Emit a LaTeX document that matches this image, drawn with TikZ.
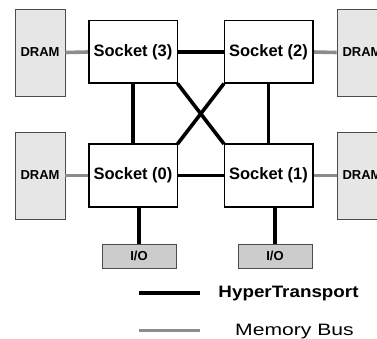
\documentclass[tikz,border=0pt]{standalone}
\usepackage{fontspec}
\setmainfont{Liberation Sans}
\definecolor{dramfill}{HTML}{E6E6E6}
\definecolor{iofill}{HTML}{CCCCCC}
\definecolor{busgray}{HTML}{8C8C8C}
\tikzset{
  socketbox/.style={draw=black, line width=1pt, fill=white, minimum width=88pt, minimum height=62pt, inner sep=0pt, font=\fontsize{16.5}{18}\selectfont\bfseries},
  drambox/.style={draw=black!70, line width=0.8pt, fill=dramfill, minimum width=50pt, minimum height=87pt, inner sep=0pt, font=\fontsize{13}{15}\selectfont\bfseries},
  iobox/.style={draw=black!70, line width=0.8pt, fill=iofill, minimum width=74pt, minimum height=24pt, inner sep=0pt, font=\fontsize{13}{15}\selectfont\bfseries},
  htlink/.style={draw=black, line width=3.6pt},
  memlink/.style={draw=busgray, line width=3.6pt},
}
\begin{document}
\begin{tikzpicture}[x=1pt,y=-1pt]
\useasboundingbox (0,0) rectangle (377,339);
\begin{scope}
\clip (0,0) rectangle (377,339);
% DRAM boxes
\node[drambox] (d3) at (40,52.5) {DRAM};
\node[drambox] (d0) at (40,175.5) {DRAM};
\node[drambox] (d2) at (362,52.5) {DRAM};
\node[drambox] (d1) at (362,175.5) {DRAM};
% I/O boxes
\node[iobox] (io0) at (139,256) {I/O};
\node[iobox] (io1) at (275,256) {I/O};
% sockets
\node[socketbox] (s3) at (133,52) {Socket (3)};
\node[socketbox] (s2) at (268.5,52) {Socket (2)};
\node[socketbox] (s0) at (133,175.5) {Socket (0)};
\node[socketbox] (s1) at (268.5,175.5) {Socket (1)};
% HyperTransport links
\draw[htlink] (s3.east) -- (s2.west);
\draw[htlink] (s0.east) -- (s1.west);
\draw[htlink] (s3.south) -- (s0.north);
\draw[htlink] (s2.south) -- (s1.north);
\draw[htlink] (s3.south east) -- (s1.north west);
\draw[htlink] (s2.south west) -- (s0.north east);
\draw[htlink] (io0.north) -- (io0.north |- s0.south);
\draw[htlink] (io1.north) -- (io1.north |- s1.south);
% memory bus
\draw[memlink] (d3.east) -- (s3.west);
\draw[memlink] (d0.east) -- (s0.west);
\draw[memlink] (s2.east) -- (d2.west);
\draw[memlink] (s1.east) -- (d1.west);
% redraw socket borders on top
\foreach \s in {s0,s1,s2,s3} \draw[line width=1pt] (\s.south west) rectangle (\s.north east);
% legend
\coordinate (lh1) at (139,293);
\coordinate (lh2) at (200,293);
\coordinate (lm1) at (139,330);
\coordinate (lm2) at (200,330);
\draw[htlink, line width=3.4pt] (lh1) -- (lh2);
\draw[memlink, line width=3pt] (lm1) -- (lm2);
\node[font=\fontsize{16.5}{18}\selectfont\bfseries, xscale=1.14, inner sep=0pt] (lht) at (288.5,294) {HyperTransport};
\node[font=\fontsize{16.5}{18}\selectfont, xscale=1.28, inner sep=0pt] (lmt) at (294.5,331.5) {Memory Bus};
\end{scope}
\end{tikzpicture}
\end{document}
